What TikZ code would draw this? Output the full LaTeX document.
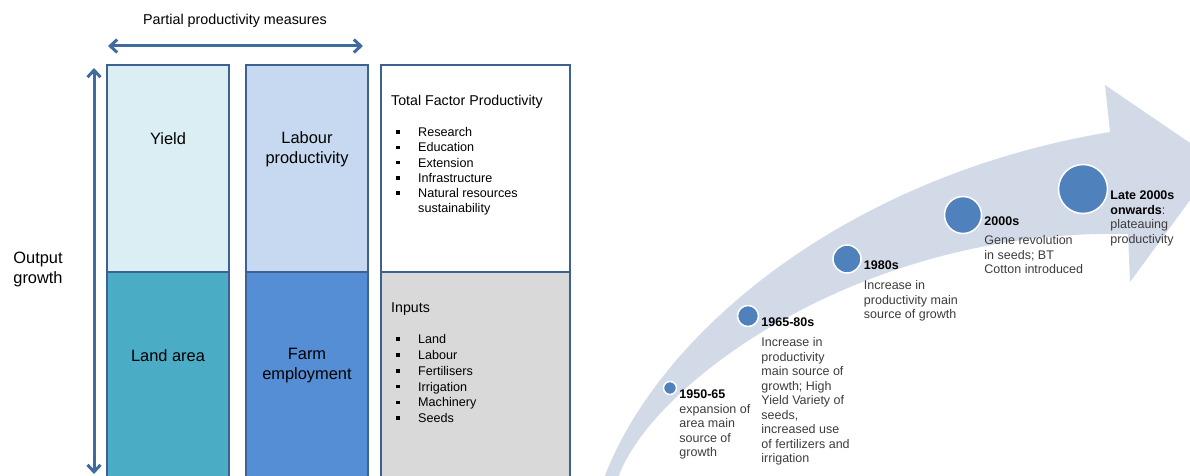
\documentclass[tikz,border=0pt]{standalone}
\usepackage{fontspec}
\setmainfont{Liberation Sans}
\usetikzlibrary{arrows.meta,positioning}

\definecolor{edgeblue}{HTML}{3D6190}
\definecolor{arrowblue}{HTML}{3F6B9E}
\definecolor{yieldfill}{HTML}{DBEEF4}
\definecolor{landfill}{HTML}{4BACC6}
\definecolor{labourfill}{HTML}{C6D9F1}
\definecolor{farmfill}{HTML}{558ED5}
\definecolor{inputfill}{HTML}{D9D9D9}
\definecolor{bandfill}{HTML}{D2DAE8}
\definecolor{dotfill}{HTML}{4F81BD}
\definecolor{bodytext}{HTML}{3C3C3C}

\newcommand{\sqbul}{\makebox[22pt][l]{\rule[2.8pt]{3.5pt}{3.5pt}}}
\newcommand{\sqgap}{\makebox[22pt]{}}

\begin{document}
\begin{tikzpicture}[x=1pt,y=-1pt]

    \tikzset{
      cell/.style={draw=edgeblue,line width=2pt},
      boxlabel/.style={font=\fontsize{16.4}{20}\selectfont,align=center,inner sep=0pt},
      listhead/.style={font=\fontsize{14.2}{17}\selectfont,anchor=base west,inner sep=0pt},
      listbody/.style={font=\fontsize{12.6}{15.2}\selectfont,align=left,anchor=north west,inner sep=0pt},
      dblarrow/.style={arrowblue,line width=3pt,
        {Straight Barb[length=7pt,width=13pt]}-{Straight Barb[length=7pt,width=13pt]}},
      dot/.style={circle,fill=dotfill,draw=white,line width=1.5pt,inner sep=0pt},
      period/.style={font=\fontsize{12.5}{14.5}\selectfont,text=bodytext,align=left,
        anchor=north west,inner sep=0pt,xshift=2pt,yshift=-2pt},
    }
    \useasboundingbox (0,0) rectangle (1190,476);
    \clip (0,0) rectangle (1190,476);

    % measures on the left
    \draw[cell,fill=yieldfill] (107,65) rectangle (229,272);
    \draw[cell,fill=landfill] (107,272) rectangle (229,490);
    \draw[cell,fill=labourfill] (246,65) rectangle (368,272);
    \draw[cell,fill=farmfill] (246,272) rectangle (368,490);
    \draw[cell,fill=white] (381,65) rectangle (570,272);
    \draw[cell,fill=inputfill] (381,272) rectangle (570,490);

    \node[boxlabel] (yield) at (168,139) {Yield};
    \node[boxlabel] (labour) at (307,149) {Labour\\productivity};
    \node[boxlabel] (land) at (168,356) {Land area};
    \node[boxlabel] (farm) at (307,366) {Farm\\employment};
    \node[boxlabel] (outg) at (38,269) {Output\\growth};

    \node[listhead] (tfp) at (391,106) {Total Factor Productivity};
    \node[listbody] (tfp-list) at (396,127.4) {\sqbul Research\\\sqbul Education\\\sqbul Extension\\
      \sqbul Infrastructure\\\sqbul Natural resources\\\sqgap sustainability};
    \node[listhead] (inputs) at (391,312) {Inputs};
    \node[listbody,font=\fontsize{12.6}{15.8}\selectfont] (inputs-list) at (396,334.4) {\sqbul Land\\
      \sqbul Labour\\\sqbul Fertilisers\\\sqbul Irrigation\\\sqbul Machinery\\\sqbul Seeds};

    \node[font=\fontsize{14.3}{17}\selectfont,inner sep=0pt] (ppm) at (235,21) {Partial productivity measures};
    \coordinate (ppm-w) at (108,46);
    \coordinate (ppm-e) at (363,46);
    \draw[dblarrow] (ppm-w) -- (ppm-e);
    \coordinate (outg-n) at (94,68);
    \coordinate (outg-s) at (94,474);
    \draw[dblarrow] (outg-n) -- (outg-s);

    % timeline arrow
    \fill[bandfill] (604,478) .. controls (660,330) and (850,175) .. (1110,132) -- (1105,85)
      -- (1218,162) -- (1130,282) -- (1128,234) .. controls (860,228) and (650,385) .. (618,478) -- cycle;

    \node[dot,minimum size=13pt] (t1) at (670,388) {};
    \node[dot,minimum size=21pt] (t2) at (748,316) {};
    \node[dot,minimum size=28pt] (t3) at (847,259) {};
    \node[dot,minimum size=37pt] (t4) at (963,215) {};
    \node[dot,minimum size=49pt] (t5) at (1083,189) {};

    \node[period] (p1) at (t1.east) {\textbf{\textcolor{black}{1950-65}}\\expansion of\\area main\\source of\\growth};
    \node[period] (p2) at (t2.east) {\textbf{\textcolor{black}{1965-80s}}\\[5.5pt]Increase in\\productivity\\
      main source of\\growth; High\\Yield Variety of\\seeds,\\increased use\\of fertilizers and\\irrigation};
    \node[period] (p3) at (t3.east) {\textbf{\textcolor{black}{1980s}}\\[5.5pt]Increase in\\productivity main\\source of growth};
    \node[period] (p4) at (t4.east) {\textbf{\textcolor{black}{2000s}}\\[4.5pt]Gene revolution\\in seeds; BT\\Cotton introduced};
    \node[period] (p5) at (t5.east) {\textbf{\textcolor{black}{Late 2000s}}\\\textbf{\textcolor{black}{onwards}}:\\plateauing\\productivity};

\end{tikzpicture}
\end{document}
